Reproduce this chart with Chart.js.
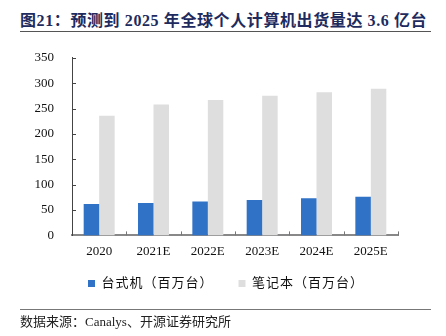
<!DOCTYPE html>
<html>
<head>
<meta charset="utf-8">
<script src="https://cdn.jsdelivr.net/npm/chart.js@4"></script>
<style>
  body { margin: 0; width: 446px; height: 336px; background: #fff; position: relative; overflow: hidden; }
  .title {
    position: absolute; left: 20px; top: 7px; width: 411px; height: 24px;
    border-bottom: 1.5px solid #555;
    font: bold 16px "Liberation Serif", "Noto Sans CJK SC", serif;
    color: #1e2b5e; letter-spacing: 0.6px; white-space: nowrap;
  }
  .source {
    position: absolute; left: 20px; top: 309px; width: 411px;
    border-top: 1.5px solid #777; padding-top: 1px;
    font: 13px "Liberation Serif", "Noto Sans CJK SC", serif; color: #222;
  }
  .wrap { position: absolute; left: 0; top: 40px; width: 446px; height: 271px; }
</style>
</head>
<body>
<div class="title">图21：预测到 2025 年全球个人计算机出货量达 3.6 亿台</div>
<div class="wrap"><canvas id="pcChart"></canvas></div>
<div class="source">数据来源：Canalys、开源证券研究所</div>
<script>
const years = ['2020', '2021E', '2022E', '2023E', '2024E', '2025E'];
const desktop = [62, 64, 67, 70, 73, 76];
const laptop = [236, 258, 267, 275, 282, 289];

const fontFamily = '"Liberation Serif", "Noto Sans CJK SC", serif';

// wider letter spacing for the legend text only
function spaced(fn) {
    return function (...args) {
        const ctx = this.ctx;
        const old = ctx.letterSpacing;
        ctx.letterSpacing = '1px';
        const res = fn.apply(this, args);
        ctx.letterSpacing = old;
        return res;
    };
}

// short tick marks pointing into the plot area
const innerTicks = {
    id: 'innerTicks',
    afterInit(chart) {
        chart.legend.fit = spaced(chart.legend.fit);
        chart.legend.draw = spaced(chart.legend.draw);
    },
    afterLayout(chart) {
        // legend padding is wide for the item gap, so lift it back up under the years
        chart.legend.top -= 7;
        chart.legend.bottom -= 7;
        chart.legend.left += 27;
        chart.legend.right += 27;
    },
    afterDraw(chart) {
        const ctx = chart.ctx;
        const x = chart.scales.x;
        const y = chart.scales.y;
        ctx.save();
        ctx.lineWidth = 1;
        ctx.strokeStyle = '#444';
        y.ticks.forEach(t => {
            if (t.value === 0) return;
            const py = Math.round(y.getPixelForValue(t.value)) + 0.5;
            ctx.beginPath();
            ctx.moveTo(x.left, py);
            ctx.lineTo(x.left + 4, py);
            ctx.stroke();
        });
        ctx.strokeStyle = '#777';
        for (let i = 1; i <= years.length; i++) {
            const px = Math.round((x.getPixelForValue(i - 1) + x.getPixelForValue(i)) / 2) + 0.5;
            ctx.beginPath();
            ctx.moveTo(px, y.bottom);
            ctx.lineTo(px, y.bottom - 4);
            ctx.stroke();
        }
        ctx.restore();
    }
};

const config = {
    type: 'bar',
    data: {
        labels: years,
        datasets: [{
            label: '台式机（百万台）',
            data: desktop,
            backgroundColor: '#2f72c6',
            borderWidth: 0
        }, {
            label: '笔记本（百万台）',
            data: laptop,
            backgroundColor: '#dedede',
            borderWidth: 0
        }]
    },
    options: {
        responsive: true,
        maintainAspectRatio: false,
        animation: false,
        layout: {
            padding: { left: 0, right: 48, top: 4, bottom: 4 }
        },
        datasets: {
            bar: { barPercentage: 1, categoryPercentage: 0.57 }
        },
        scales: {
            x: {
                grid: { display: false },
                border: { color: '#888', width: 2 },
                ticks: { color: '#111', padding: 0, font: { family: fontFamily, size: 13 } }
            },
            y: {
                min: 0,
                max: 350,
                afterFit(scale) { scale.width = 72; },
                grid: { display: false },
                border: { color: '#444', width: 1 },
                ticks: { stepSize: 50, color: '#111', padding: 10, font: { family: fontFamily, size: 13 } }
            }
        },
        plugins: {
            legend: {
                position: 'bottom',
                labels: {
                    boxWidth: 7,
                    boxHeight: 7,
                    padding: 25,
                    color: '#111',
                    font: { family: fontFamily, size: 13 }
                }
            },
            tooltip: { enabled: false }
        }
    },
    plugins: [innerTicks]
};

const pcChart = new Chart(document.getElementById('pcChart'), config);
</script>
</body>
</html>
